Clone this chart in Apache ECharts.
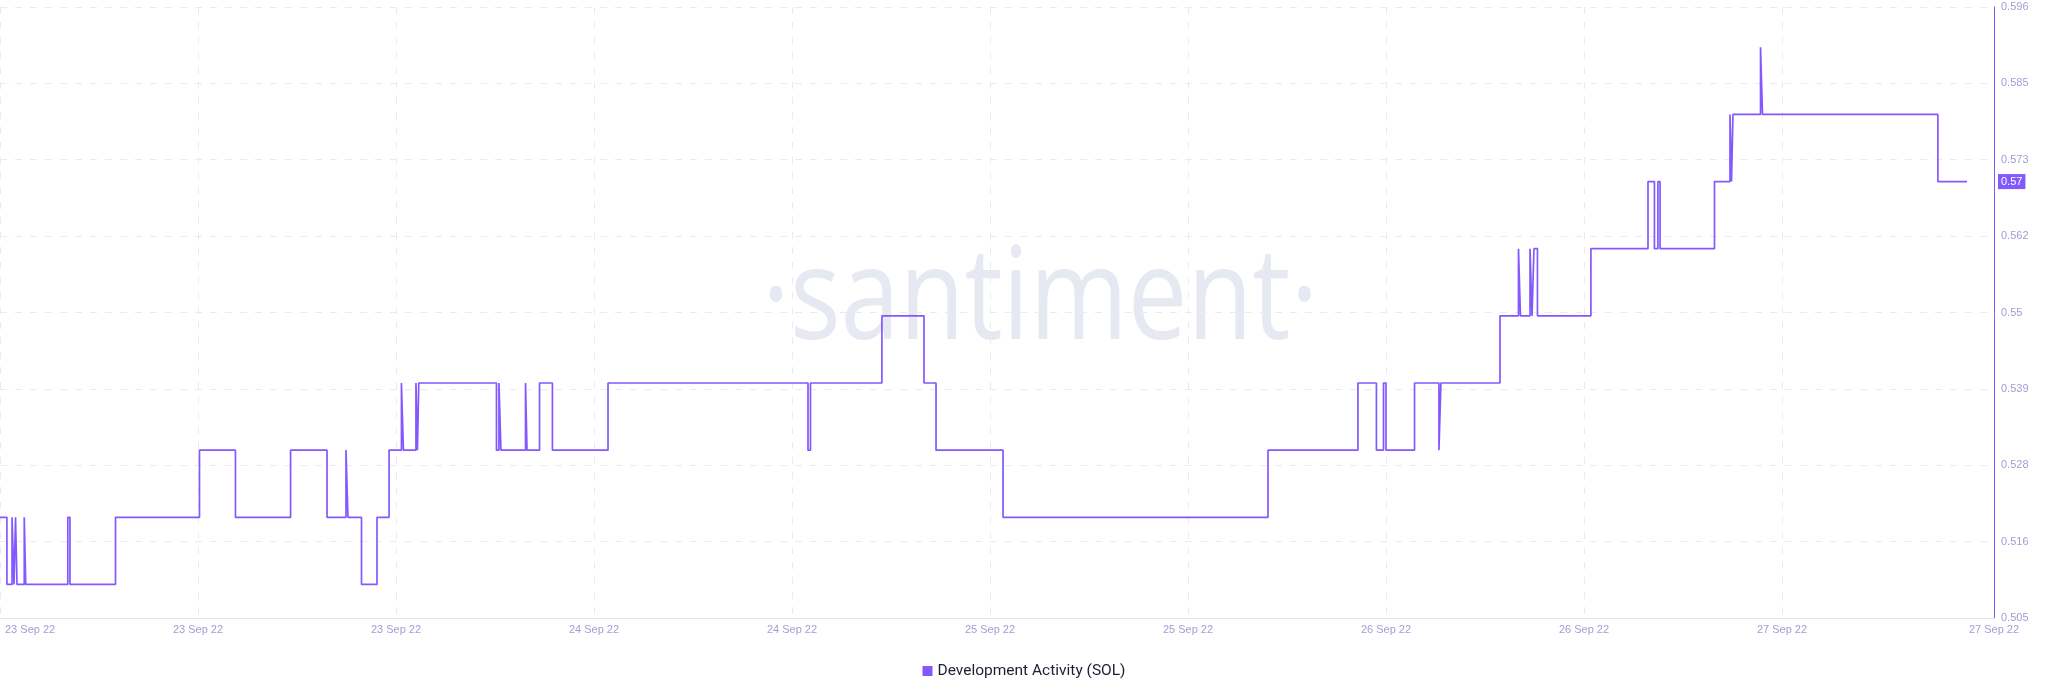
<!DOCTYPE html>
<html>
<head>
<meta charset="utf-8">
<script src="https://cdn.jsdelivr.net/npm/echarts@6/dist/echarts.min.js"></script>
<style>
html,body{margin:0;padding:0;background:#ffffff;}
#chart{width:2048px;height:693px;}
</style>
</head>
<body>
<div id="chart"></div>
<script>
// ---- data ----
const seriesName = 'Development Activity (SOL)';
const watermarkText = '·santiment·';

// x positions in hours from the start of the window; ticks every 12 h, last label at axis end
const xTickHours = [0, 12, 24, 36, 48, 60, 72, 84, 96, 108, 120.85];
const xTickLabels = ['23 Sep 22', '23 Sep 22', '23 Sep 22', '24 Sep 22', '24 Sep 22', '25 Sep 22', '25 Sep 22', '26 Sep 22', '26 Sep 22', '27 Sep 22', '27 Sep 22'];

const yTickValues = [0.505, 0.516375, 0.52775, 0.539125, 0.5505, 0.561875, 0.57325, 0.584625, 0.596];
const yTickLabels = ['0.505', '0.516', '0.528', '0.539', '0.55', '0.562', '0.573', '0.585', '0.596'];

// times (hours) at which the value changes, and the value from that time on
const changeHours = [
  0, 0.42, 0.73, 0.85, 0.94, 1.03, 1.47, 1.56, 4.11, 4.24,
  7.00, 12.09, 14.27, 17.61, 19.82, 20.97, 21.09, 21.91, 22.85, 23.58,
  24.33, 24.45, 25.21, 25.30, 25.38, 30.09, 30.24, 30.36, 31.85, 31.94,
  32.70, 33.48, 36.85, 48.97, 49.12, 53.45, 56.00, 56.73, 60.79, 76.85,
  82.30, 83.42, 83.85, 84.00, 85.73, 87.21, 87.33, 90.91, 92.03, 92.15,
  92.73, 92.85, 92.97, 93.18, 96.42, 99.88, 100.27, 100.48, 100.61, 103.91,
  104.85, 104.94, 105.03, 106.70, 106.82, 117.45, 119.21
];
const changeValues = [
  0.52, 0.51, 0.52, 0.51, 0.52, 0.51, 0.52, 0.51, 0.52, 0.51,
  0.52, 0.53, 0.52, 0.53, 0.52, 0.53, 0.52, 0.51, 0.52, 0.53,
  0.54, 0.53, 0.54, 0.53, 0.54, 0.53, 0.54, 0.53, 0.54, 0.53,
  0.54, 0.53, 0.54, 0.53, 0.54, 0.55, 0.54, 0.53, 0.52, 0.53,
  0.54, 0.53, 0.54, 0.53, 0.54, 0.53, 0.54, 0.55, 0.56, 0.55,
  0.56, 0.55, 0.56, 0.55, 0.56, 0.57, 0.56, 0.57, 0.56, 0.57,
  0.58, 0.57, 0.58, 0.59, 0.58, 0.57, 0.57
];

// ---- styles ----
const lineColor = '#8358ff';
const labelColor = '#a19dd4';
const gridColor = '#e9ebf3';

const seriesData = changeHours.map((h, i) => [h, changeValues[i]]);
const lastValue = changeValues[changeValues.length - 1];

function nearestIndex(arr, v) {
  let best = 0, bd = Infinity;
  arr.forEach((a, i) => { const d = Math.abs(a - v); if (d < bd) { bd = d; best = i; } });
  return best;
}

const chart = echarts.init(document.getElementById('chart'), null, {renderer: 'canvas'});
chart.setOption({
  animation: false,
  backgroundColor: '#ffffff',
  textStyle: {fontFamily: 'Arial, "Liberation Sans", sans-serif'},
  grid: {left: 0, right: 54, top: 7, bottom: 75, containLabel: false, outerBoundsMode: 'none'},
  graphic: [{
    type: 'text',
    left: 762,
    top: 239,
    scaleX: 0.83,
    silent: true,
    z: -10,
    style: {
      text: watermarkText,
      fill: '#e7e9f2',
      font: '400 128px "Open Sans", sans-serif'
    }
  }],
  legend: {
    data: [seriesName],
    left: 'center',
    top: 658,
    icon: 'rect',
    itemWidth: 10,
    itemHeight: 10,
    itemGap: 10,
    textStyle: {color: '#1e1f33', fontSize: 15.5, fontFamily: 'Roboto, Arial, sans-serif'}
  },
  xAxis: {
    type: 'value',
    min: 0,
    max: xTickHours[xTickHours.length - 1],
    axisLine: {show: true, onZero: false, lineStyle: {color: '#e4e4ee', width: 1}},
    axisTick: {show: false, customValues: xTickHours},
    splitLine: {show: true, lineStyle: {color: gridColor, type: [7, 8], width: 1}},
    axisLabel: {
      customValues: xTickHours,
      color: labelColor,
      fontSize: 11,
      margin: 6,
      alignMinLabel: 'left',
      formatter: (v) => {
        const i = nearestIndex(xTickHours, v);
        return i === 0 ? '{first|' + xTickLabels[i] + '}' : xTickLabels[i];
      },
      rich: {first: {padding: [0, 0, 0, 5], color: labelColor, fontSize: 11}}
    }
  },
  yAxis: {
    type: 'value',
    position: 'right',
    min: yTickValues[0],
    max: yTickValues[yTickValues.length - 1],
    axisLine: {show: true, onZero: false, lineStyle: {color: lineColor, width: 1}},
    axisTick: {show: false, customValues: yTickValues},
    splitLine: {show: true, lineStyle: {color: gridColor, type: [7, 8], width: 1}},
    axisLabel: {
      customValues: yTickValues,
      color: labelColor,
      fontSize: 11,
      margin: 7,
      formatter: (v) => yTickLabels[nearestIndex(yTickValues, v)]
    }
  },
  series: [{
    name: seriesName,
    type: 'line',
    step: 'end',
    data: seriesData,
    showSymbol: false,
    symbol: 'none',
    color: lineColor,
    lineStyle: {color: lineColor, width: 1.7},
    markLine: {
      silent: true,
      symbol: ['none', 'none'],
      data: [{yAxis: lastValue}],
      lineStyle: {color: 'rgba(0,0,0,0)', width: 1, type: 'solid'},
      label: {
        show: true,
        position: 'end',
        distance: 4,
        formatter: () => String(lastValue),
        backgroundColor: lineColor,
        color: '#ffffff',
        fontSize: 11,
        padding: [2, 3, 2, 3]
      }
    }
  }]
});
</script>
</body>
</html>
